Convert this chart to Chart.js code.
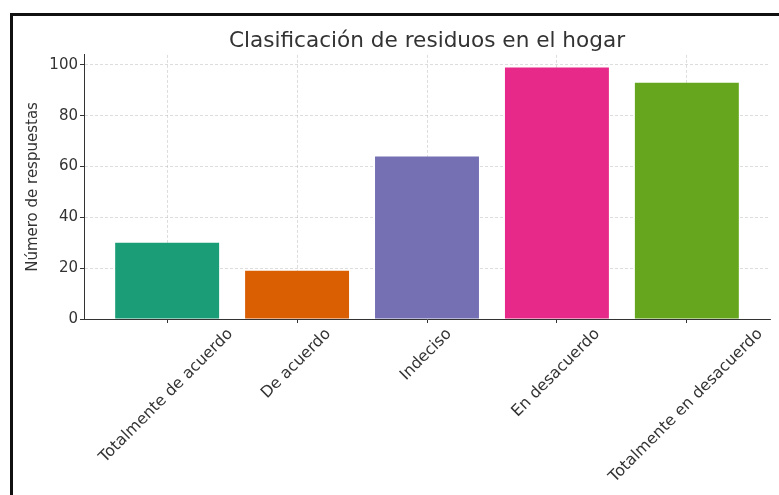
<!DOCTYPE html>
<html>
<head>
<meta charset="utf-8">
<script src="https://cdn.jsdelivr.net/npm/chart.js"></script>
<style>
  html, body { margin: 0; padding: 0; background: #fff; overflow: hidden; }
  #wrap { position: relative; width: 779px; height: 495px; }
  #frame {
    position: absolute; left: 10px; top: 13px; width: 900px; height: 600px;
    border: 3px solid #111; pointer-events: none;
  }
</style>
</head>
<body>
<div id="wrap">
  <canvas id="residuosChart" width="779" height="495"></canvas>
  <div id="frame"></div>
</div>
<script>
// datos
const categories = ['Totalmente de acuerdo', 'De acuerdo', 'Indeciso', 'En desacuerdo', 'Totalmente en desacuerdo'];
const respuestas = [30, 19, 64, 99, 93];
const yTicks = [0, 20, 40, 60, 80, 100];
const barColors = ['#1b9e77', '#d95f02', '#7570b3', '#e7298a', '#66a61e'];

const FONT = "'DejaVu Sans', sans-serif";
const TEXT = '#333333';

Chart.defaults.font.family = FONT;
Chart.defaults.color = TEXT;

// rotated category labels, centred under each tick like matplotlib
const xLabels = {
    id: 'xLabels',
    afterDraw(chart) {
        const { ctx, scales: { x } } = chart;
        const size = 15.8;
        ctx.save();
        ctx.font = size + 'px ' + FONT;
        ctx.fillStyle = TEXT;
        ctx.textAlign = 'right';
        ctx.textBaseline = 'top';
        const h = size * 1.16;
        categories.forEach((label, i) => {
            const px = x.getPixelForValue(i);
            const w = ctx.measureText(label).width;
            ctx.save();
            ctx.translate(px + 0.3536 * (w - h), x.top + 7);
            ctx.rotate(-Math.PI / 4);
            ctx.fillText(label, 0, 0);
            ctx.restore();
        });
        ctx.restore();
    }
};

const gridStyle = {
    color: 'rgba(176, 176, 176, 0.55)',
    lineWidth: 0.8,
    offset: false,
    tickColor: TEXT,
    tickLength: 4,
    tickWidth: 1,
    tickBorderDash: []
};

new Chart(document.getElementById('residuosChart'), {
    type: 'bar',
    data: {
        datasets: [{
            data: respuestas.map((v, i) => ({ x: i, y: v })),
            backgroundColor: barColors,
            borderWidth: 0,
            categoryPercentage: 1,
            barPercentage: 0.8
        }]
    },
    options: {
        responsive: false,
        animation: false,
        layout: { padding: { left: 0, right: 9, top: 0, bottom: 0 } },
        plugins: {
            legend: { display: false },
            tooltip: { enabled: false },
            title: {
                display: true,
                text: 'Clasificación de residuos en el hogar',
                fullSize: false,
                color: TEXT,
                font: { size: 21.6, weight: 'normal', family: FONT },
                padding: { top: 28, bottom: 1 }
            }
        },
        scales: {
            x: {
                type: 'linear',
                offset: false,
                min: -0.64,
                max: 4.64,
                z: 1,
                afterBuildTicks: s => { s.ticks = categories.map((c, i) => ({ value: i })); },
                afterFit: s => { s.height = 176; },
                ticks: { display: false },
                grid: gridStyle,
                border: { color: TEXT, width: 1, dash: [3, 2] }
            },
            y: {
                min: 0,
                max: 103.95,
                z: 1,
                afterBuildTicks: s => { s.ticks = yTicks.map(v => ({ value: v })); },
                afterFit: s => { s.width = 84; },
                ticks: { font: { size: 15 }, color: TEXT, padding: 2 },
                grid: gridStyle,
                border: { color: TEXT, width: 1, dash: [3, 2] },
                title: {
                    display: true,
                    text: 'Número de respuestas',
                    color: TEXT,
                    font: { size: 15 },
                    padding: { top: 24, bottom: 0 }
                }
            }
        }
    },
    plugins: [xLabels]
});
</script>
</body>
</html>
